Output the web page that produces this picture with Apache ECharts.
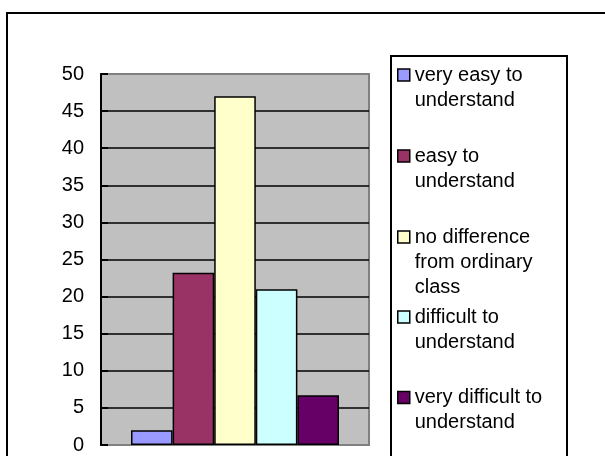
<!DOCTYPE html>
<html>
<head>
<meta charset="utf-8">
<script src="https://cdn.jsdelivr.net/npm/echarts@6/dist/echarts.min.js"></script>
<style>
html,body{margin:0;padding:0;background:#fff;}
#chart{width:605px;height:456px;}
</style>
</head>
<body>
<div id="chart"></div>
<script>
// ---- data ----
const categories = [''];
const seriesNames = [
  'very easy to\nunderstand',
  'easy to\nunderstand',
  'no difference\nfrom ordinary\nclass',
  'difficult to\nunderstand',
  'very difficult to\nunderstand'
];
const seriesValues = [2, 23.2, 47, 21, 6.7];
const seriesColors = ['#9999ff', '#993366', '#ffffcc', '#ccffff', '#660066'];
const yTicks = [0, 5, 10, 15, 20, 25, 30, 35, 40, 45, 50];

// ---- layout ----
const FONT = '"Liberation Sans", Arial, sans-serif';
const FS = 20;
const LH = 25;
const legendFirstLineCenters = [75, 156, 237, 317, 397.5];

const chart = echarts.init(document.getElementById('chart'), null, {renderer: 'canvas'});

const series = seriesNames.map((name, i) => ({
  name: name,
  type: 'bar',
  data: [seriesValues[i]],
  barGap: '0%',
  barCategoryGap: '22.4%',
  itemStyle: {color: seriesColors[i], borderColor: '#000', borderWidth: 1.5},
  emphasis: {disabled: true},
  animation: false
}));

const legends = seriesNames.map((name, i) => {
  const n = name.split('\n').length;
  return {
    data: [name],
    orient: 'vertical',
    left: 397,
    top: legendFirstLineCenters[i] - (2 * n - 1) * LH / 2,
    padding: 0,
    itemGap: 0,
    itemWidth: 12,
    itemHeight: 12,
    icon: 'rect',
    selectedMode: false,
    itemStyle: {borderColor: '#000', borderWidth: 1.5},
    textStyle: {fontFamily: FONT, fontSize: FS, color: '#000', lineHeight: LH},
    formatter: (nm) => '\n'.repeat(nm.split('\n').length - 1) + nm
  };
});

chart.setOption({
  animation: false,
  backgroundColor: '#fff',
  graphic: [
    {type: 'rect', z: -1, silent: true, shape: {x: 7, y: 13, width: 640, height: 480},
     style: {fill: 'none', stroke: '#000', lineWidth: 2}},
    {type: 'rect', z: -1, silent: true, shape: {x: 391, y: 56, width: 176, height: 440},
     style: {fill: '#fff', stroke: '#000', lineWidth: 2}}
  ],
  grid: {
    left: 101, top: 74, right: 236, bottom: 11,
    show: true, backgroundColor: '#c0c0c0', borderColor: '#808080', borderWidth: 2,
    containLabel: false
  },
  xAxis: {
    type: 'category', data: categories,
    axisLine: {show: false}, axisTick: {show: false}, axisLabel: {show: false},
    splitLine: {show: false}
  },
  yAxis: {
    type: 'value', min: yTicks[0], max: yTicks[yTicks.length - 1], interval: yTicks[1] - yTicks[0],
    axisLine: {show: true, lineStyle: {color: '#000', width: 2}},
    axisTick: {show: true, inside: true, length: 7, lineStyle: {color: '#000', width: 2}},
    axisLabel: {fontFamily: FONT, fontSize: FS, color: '#000', margin: 17},
    splitLine: {show: true, showMinLine: false, showMaxLine: false, lineStyle: {color: '#000', width: 1.5}}
  },
  legend: legends,
  series: series
});
</script>
</body>
</html>
